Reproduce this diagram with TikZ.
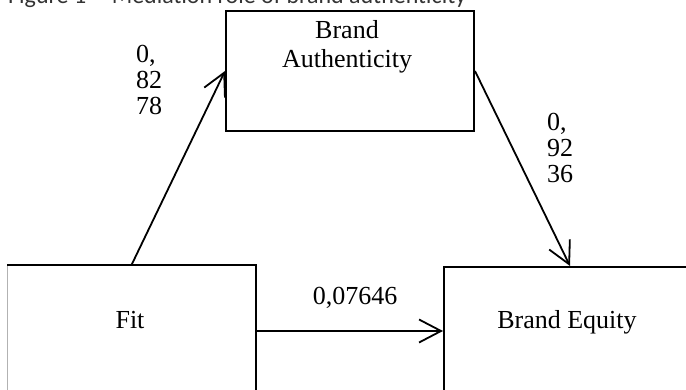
\documentclass[tikz,border=0pt]{standalone}
\usepackage{fontspec}
\setmainfont{Liberation Serif}
\newfontfamily\capfont{Carlito}
\usetikzlibrary{arrows.meta}

\begin{document}
\begin{tikzpicture}[x=1pt,y=-1pt,
  box/.style={line width=2pt,inner sep=0pt},
  txt/.style={inner sep=0pt,font=\fontsize{26}{26}\selectfont},
  link/.style={-{Straight Barb[length=22pt,width=23pt]},line width=1.8pt}]
  \useasboundingbox (0,0) rectangle (686,390);
  \clip (0,0) rectangle (686,390);
  % caption, cut off at the top
  \node[anchor=base west,inner sep=0pt,text=black!80,font=\capfont\fontsize{24}{24}\selectfont] (cap) at (8,4) {Figure 1 -- Mediation role of brand authenticity};
  % boxes
  \node[box,draw,minimum width=248pt,minimum height=120pt] (auth) at (350,71) {};
  \node[box,minimum width=247pt,minimum height=130pt] (fit) at (131.5,331) {};
  \node[box,draw,minimum width=252pt,minimum height=128pt] (equity) at (570,331) {};
  \draw[black!30,line width=0.8pt] (fit.south west) -- (fit.north west);
  \draw[box] (fit.north west) -- (fit.north east) -- (fit.south east);
  % texts
  \node[txt,align=center,anchor=base] (authlbl) at (347,68) {Brand\\[3pt]Authenticity};
  \node[txt,anchor=base] (fitlbl) at (130,329) {Fit};
  \node[txt,anchor=base] (equitylbl) at (567,329) {Brand Equity};
  \node[txt,align=left,anchor=base west] (a) at (136,115) {0,\\82\\78};
  \node[txt,align=left,anchor=base west] (b) at (547,183) {0,\\92\\36};
  \node[txt,anchor=base] (c) at (355,305) {0,07646};
  % paths
  \draw[link] (fit.north) -- (auth.west);
  \draw[link] (auth.east) -- (equity.north);
  \draw[link] (fit.east) -- (equity.west);
\end{tikzpicture}
\end{document}
